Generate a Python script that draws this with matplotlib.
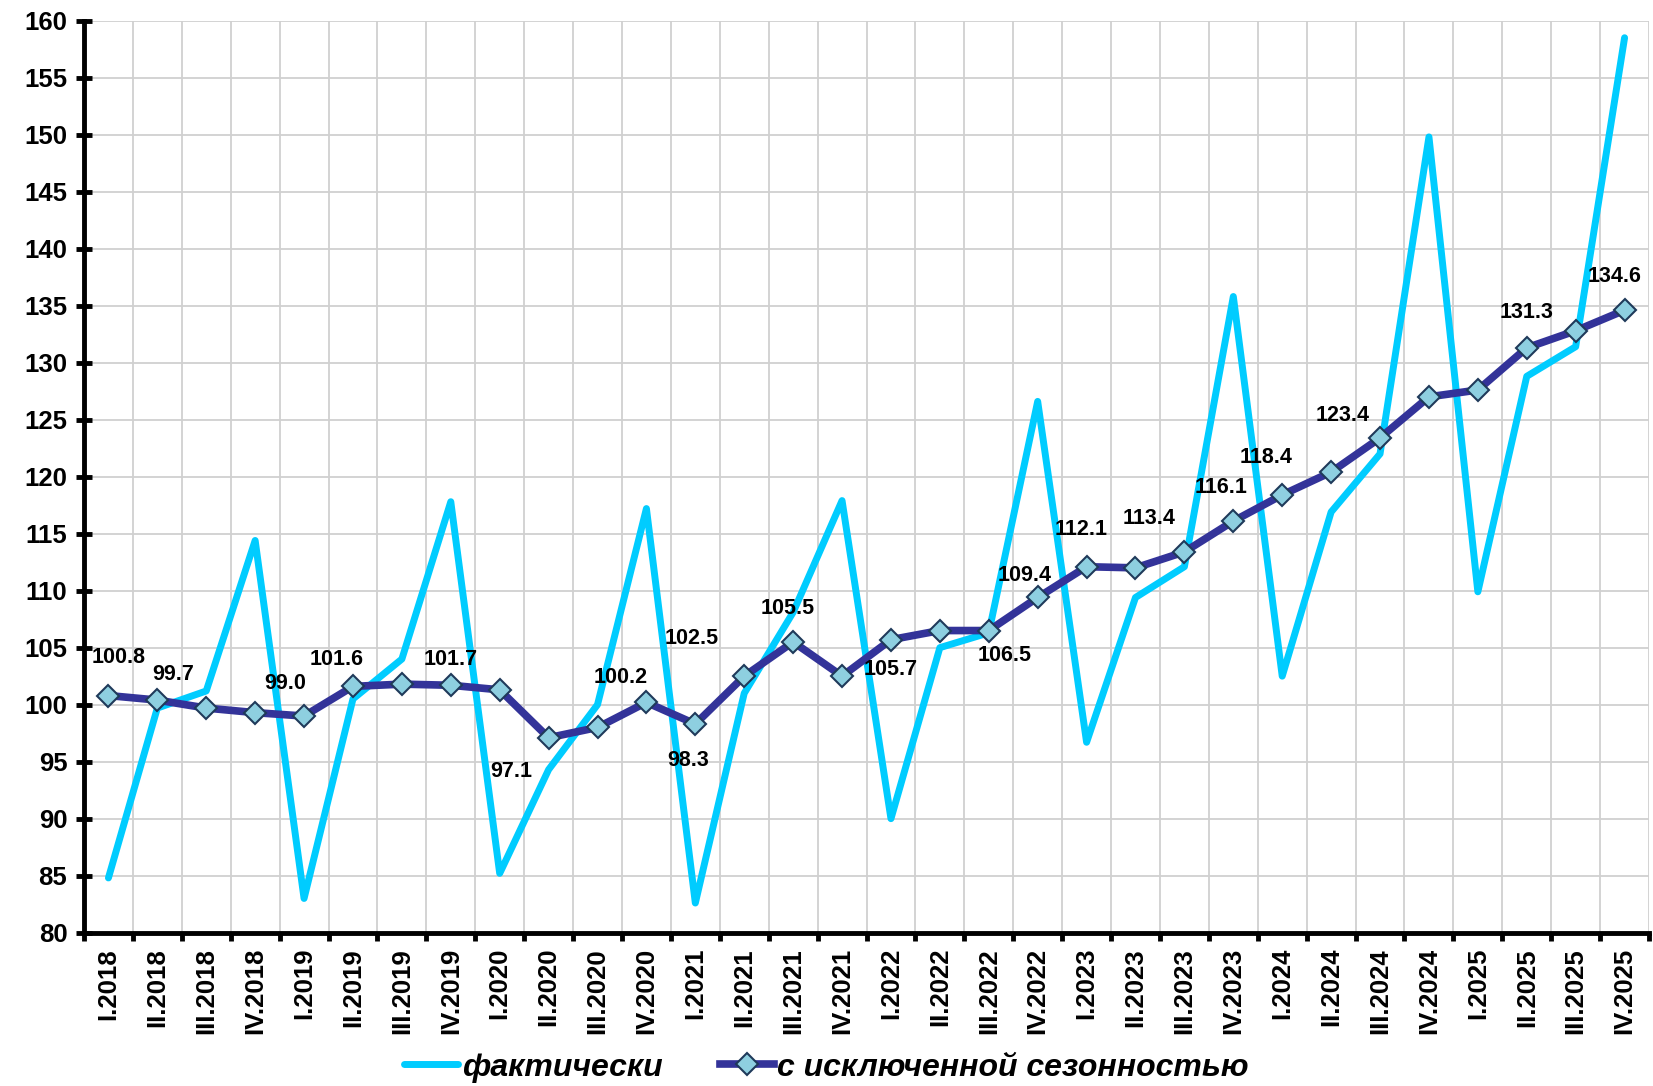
import numpy as np
import matplotlib
matplotlib.use("Agg")
import matplotlib.pyplot as plt

plt.rcParams['font.family'] = ['Liberation Sans', 'DejaVu Sans']

quarters = ["I", "II", "III", "IV"]
years = list(range(2018, 2026))
labels = [f"{q}.{y}" for y in years for q in quarters]

# фактически
actual = [84.8, 99.7, 101.2, 114.4,
          83.0, 100.5, 104.0, 117.8,
          85.2, 94.3, 100.0, 117.2,
          82.6, 101.0, 108.1, 117.9,
          90.0, 105.0, 106.3, 126.6,
          96.7, 109.4, 112.1, 135.8,
          102.5, 116.9, 122.0, 149.8,
          109.9, 128.8, 131.4, 158.5]

# с исключенной сезонностью
seas_adj = [100.8, 100.4, 99.7, 99.3,
            99.0, 101.6, 101.8, 101.7,
            101.3, 97.1, 98.0, 100.2,
            98.3, 102.5, 105.5, 102.5,
            105.7, 106.5, 106.5, 109.4,
            112.1, 112.0, 113.4, 116.1,
            118.4, 120.4, 123.4, 127.0,
            127.6, 131.3, 132.8, 134.6]

# which points get a value label
label_idx = [0, 2, 4, 5, 7, 9, 11, 13, 12, 14, 16, 18, 19, 20, 22, 23, 24, 26, 29, 31]
# label offsets in pixels (dx, dy)
label_off = [(10, 38), (-33, 34), (-19, 33), (-16, 27), (0, 26), (-37, -34),
             (-26, 25), (-53, 38), (-7, -36), (-5, 33), (0, -30), (16, -25),
             (-13, 22), (-5, 37), (-35, 33), (-12, 34), (-16, 37), (-37, 22),
             (0, 35), (-10, 34)]

x = np.arange(len(labels))

fig = plt.figure(figsize=(16.53, 10.86), dpi=100)
ax = fig.add_axes([0.0508, 0.1412, 0.9468, 0.8398])

ax.plot(x, actual, color="#00CCFF", lw=5, solid_joinstyle="round",
        solid_capstyle="round", zorder=3, label="фактически")
ax.plot(x, seas_adj, color="#333399", lw=5.5, marker="D", markersize=11,
        markerfacecolor="#8ECFE0", markeredgecolor="#1F3A5A", markeredgewidth=1.5,
        zorder=4, label="с исключенной сезонностью")

for i, (dx, dy) in zip(label_idx, label_off):
    ax.annotate(f"{seas_adj[i]:.1f}", (x[i], seas_adj[i]), xytext=(dx, dy),
                textcoords="offset pixels", ha="center", va="center",
                fontsize=15.5, fontweight="bold", zorder=5)

ax.set_xlim(-0.5, len(labels) - 0.5)
ax.set_ylim(80, 160)
ax.set_yticks(np.arange(80, 161, 5))
ax.set_xticks(np.arange(-0.5, len(labels), 1))
ax.set_xticklabels([])
ax.set_xticks(x, minor=True)
ax.set_xticklabels(labels, minor=True, rotation=90, fontsize=18.5, fontweight="bold")
ax.tick_params(axis="x", which="minor", length=0, pad=11)
ax.tick_params(axis="x", which="major", direction="out", length=6, width=3.5)
ax.tick_params(axis="y", direction="inout", length=12, width=3.5, labelsize=18.5, pad=6)
for t in ax.get_yticklabels():
    t.set_fontweight("bold")

ax.grid(True, which="major", color="#D0D0D0", lw=1.3)
ax.set_axisbelow(True)
for s in ["top", "right"]:
    ax.spines[s].set_visible(False)
for s in ["left", "bottom"]:
    ax.spines[s].set_linewidth(3.5)

fig.legend(loc="center", bbox_to_anchor=(0.5, 0.017), ncol=2, frameon=False,
           handlelength=1.7, handletextpad=0.1, columnspacing=1.8,
           prop={"size": 23, "weight": "bold", "style": "italic"})

fig.savefig("out.png", dpi=100)
